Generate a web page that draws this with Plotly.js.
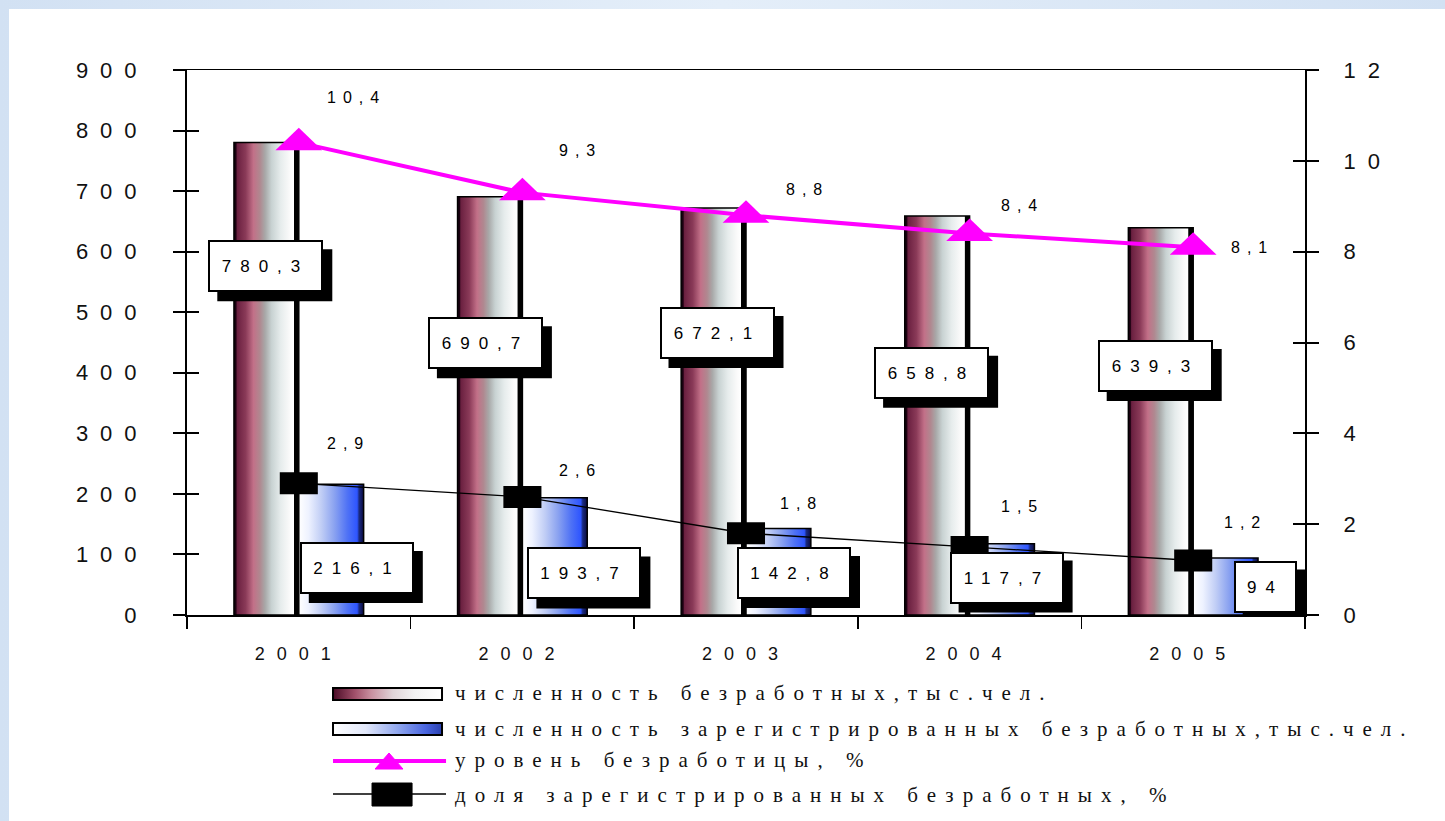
<!DOCTYPE html>
<html><head><meta charset="utf-8">
<script src="https://cdn.plot.ly/plotly-3.0.1.min.js"></script>
<style>
html,body{margin:0;padding:0;width:1445px;height:821px;overflow:hidden;background:linear-gradient(90deg,#d2e1f3,#e4eef9 50%,#d2e1f3);}
#frame{position:absolute;left:9px;top:9px;width:1436px;height:812px;background:#fff;}
#chart{position:absolute;left:0;top:0;width:1445px;height:821px;}
</style></head><body>
<div id="frame"></div><div id="chart"></div>
<script>
// ---- data ----
const years = ['2001', '2002', '2003', '2004', '2005'];
const unemployed = [780.3, 690.7, 672.1, 658.8, 639.3];
const registered = [216.1, 193.7, 142.8, 117.7, 94];
const rate = [10.4, 9.3, 8.8, 8.4, 8.1];
const share = [2.9, 2.6, 1.8, 1.5, 1.2];
const leftTicks = [0, 100, 200, 300, 400, 500, 600, 700, 800, 900];
const rightTicks = [0, 2, 4, 6, 8, 10, 12];
const seriesNames = [
  'численность безработных,тыс.чел.',
  'численность зарегистрированных безработных,тыс.чел.',
  'уровень безработицы, %',
  'доля зарегистрированных безработных, %'
];

// ---- label placement (style) ----
const unempLabelPos = [[-33, 0.738], [-37, 0.650], [-29, 0.693], [-38, 0.607], [-38, 0.643]];
const regLabelPos = [[58, 0.359], [62, 0.354], [48, 0.486], [37, 0.525], [72, 0.5]];
const regLabelW = [110, 110, 110, 110, 59];
const rateLabelOff = [[58, 45], [58, 42], [61, 26], [53, 28], [59, 0]];
const shareLabelOff = [[50, 40], [58, 26], [55, 30], [53, 40], [52, 38]];
const BOX_H = 48, SHADOW = 9;

function fmt(v) { return String(v).replace('.', ','); }
function sp(s, n) { return '<span style="letter-spacing:' + n + 'px">' + s + '</span>'; }

const traces = [
  {type: 'bar', x: years, y: unemployed, name: seriesNames[0], xaxis: 'x', yaxis: 'y',
   marker: {color: '#b06078', line: {color: '#000', width: 1.5}}},
  {type: 'bar', x: years, y: registered, name: seriesNames[1], xaxis: 'x', yaxis: 'y',
   marker: {color: '#6080f0', line: {color: '#000', width: 1.5}}},
  {type: 'scatter', mode: 'lines+markers', x: years, y: rate, name: seriesNames[2], xaxis: 'x', yaxis: 'y2',
   line: {color: '#ff00ff', width: 4}, marker: {symbol: 'triangle-up', size: 30, color: '#ff00ff'}},
  {type: 'scatter', mode: 'lines+markers', x: years, y: share, name: seriesNames[3], xaxis: 'x', yaxis: 'y2',
   line: {color: '#000', width: 1.3}, marker: {symbol: 'square', size: 22, color: '#000'}},
  // empty helper traces so the inner tick axes are drawn
  {type: 'scatter', mode: 'markers', x: [], y: [], xaxis: 'x', yaxis: 'y3', showlegend: false, hoverinfo: 'skip'},
  {type: 'scatter', mode: 'markers', x: [], y: [], xaxis: 'x', yaxis: 'y4', showlegend: false, hoverinfo: 'skip'}
];

const shapes = [
  {type: 'rect', xref: 'paper', yref: 'paper', x0: 0.1306, x1: 0.2281, y0: -0.1339, y1: -0.1560,
   fillcolor: '#b06078', line: {color: '#000', width: 2}},
  {type: 'rect', xref: 'paper', yref: 'paper', x0: 0.1306, x1: 0.2281, y0: -0.1982, y1: -0.2202,
   fillcolor: '#6080f0', line: {color: '#000', width: 2}},
  {type: 'line', xref: 'paper', yref: 'paper', x0: 0.1306, x1: 0.2317, y0: -0.2679, y1: -0.2679,
   line: {color: '#ff00ff', width: 4}},
  {type: 'path', xref: 'paper', yref: 'paper', path: 'M0.1682,-0.2826 L0.1932,-0.2826 L0.1807,-0.2532 Z',
   fillcolor: '#ff00ff', line: {color: '#ff00ff', width: 1}},
  {type: 'line', xref: 'paper', yref: 'paper', x0: 0.1306, x1: 0.2317, y0: -0.3284, y1: -0.3284,
   line: {color: '#000', width: 1.3}},
  {type: 'rect', xref: 'paper', yref: 'paper', x0: 0.1655, x1: 0.2013, y0: -0.3083, y1: -0.3505,
   fillcolor: '#000', line: {color: '#000', width: 1}}
];

const annotations = [];
function box(xi, yVal, xs, w, text) {
  const W = w + 4, H = BOX_H + 4;
  shapes.push({type: 'rect', xref: 'x', yref: 'y', xsizemode: 'pixel', ysizemode: 'pixel',
    xanchor: xi, yanchor: yVal, x0: xs + SHADOW - W / 2, x1: xs + SHADOW + W / 2,
    y0: -SHADOW - H / 2, y1: -SHADOW + H / 2, fillcolor: '#000', line: {width: 0}, layer: 'above'});
  annotations.push({xref: 'x', yref: 'y', x: xi, y: yVal, xshift: xs, showarrow: false, width: w, height: BOX_H,
    borderpad: 0, borderwidth: 2, bgcolor: '#fff', bordercolor: '#000',
    font: {family: 'Liberation Sans', size: 17, color: '#000'}, text: sp(text, 9)});
}
years.forEach((yr, i) => {
  box(i, unemployed[i] * unempLabelPos[i][1], unempLabelPos[i][0], 111, fmt(unemployed[i]));
});
years.forEach((yr, i) => {
  box(i, registered[i] * regLabelPos[i][1], regLabelPos[i][0], regLabelW[i], fmt(registered[i]));
});
years.forEach((yr, i) => {
  annotations.push({xref: 'x', yref: 'y2', x: i, y: rate[i], xshift: rateLabelOff[i][0], yshift: rateLabelOff[i][1],
    showarrow: false, text: sp(fmt(rate[i]), 7), font: {family: 'Liberation Sans', size: 16, color: '#000'}});
  annotations.push({xref: 'x', yref: 'y2', x: i, y: share[i], xshift: shareLabelOff[i][0], yshift: shareLabelOff[i][1],
    showarrow: false, text: sp(fmt(share[i]), 7), font: {family: 'Liberation Sans', size: 16, color: '#000'}});
});
// legend texts
const legendY = [-0.1431, -0.2092, -0.2661, -0.3303];
seriesNames.forEach((n, i) => {
  annotations.push({xref: 'paper', yref: 'paper', x: 0.2379, y: legendY[i], xanchor: 'left', yanchor: 'middle',
    showarrow: false, text: sp(n, 9), font: {family: 'Liberation Serif', size: 21, color: '#111'}});
});

const tickFont = {family: 'Liberation Sans', size: 22, color: '#111'};
const layout = {
  width: 1445, height: 821,
  margin: {l: 187, r: 140, t: 70, b: 206},
  paper_bgcolor: 'rgba(0,0,0,0)', plot_bgcolor: '#fff',
  showlegend: false, hovermode: false,
  barmode: 'group', bargap: 0.42, bargroupgap: 0,
  xaxis: {type: 'category', range: [-0.5, 4.5], autorange: false, tickmode: 'array', tickvals: years, ticktext: years.map(y => sp(y, 12)),
    tickson: 'boundaries', ticks: 'outside', ticklen: 12, tickwidth: 1.5, tickcolor: '#000',
    showline: true, linecolor: '#000', linewidth: 1.5, mirror: true, showgrid: false, zeroline: false,
    ticklabelstandoff: 22, tickfont: {family: 'Liberation Sans', size: 18, color: '#111'}},
  yaxis: {range: [0, 900], autorange: false, tickmode: 'array', tickvals: leftTicks, ticktext: leftTicks.map(v => sp(String(v), 12)),
    ticks: 'outside', ticklen: 12, tickwidth: 2, tickcolor: '#000', showline: true, linecolor: '#000', linewidth: 2,
    showgrid: false, zeroline: false, ticklabelstandoff: 20, tickfont: tickFont},
  yaxis2: {range: [0, 12], autorange: false, overlaying: 'y', side: 'right', anchor: 'x', tickmode: 'array', tickvals: rightTicks,
    ticktext: rightTicks.map(v => sp(String(v), 12)), ticks: 'outside', ticklen: 12, tickwidth: 2, tickcolor: '#000',
    showline: true, linecolor: '#000', linewidth: 2, showgrid: false, zeroline: false, ticklabelstandoff: 20, tickfont: tickFont},
  yaxis3: {range: [0, 900], autorange: false, overlaying: 'y', side: 'left', anchor: 'x', tickmode: 'array', tickvals: leftTicks,
    ticks: 'inside', ticklen: 12, tickwidth: 2, tickcolor: '#000', showticklabels: false, showline: false,
    showgrid: false, zeroline: false},
  yaxis4: {range: [0, 12], autorange: false, overlaying: 'y', side: 'right', anchor: 'x', tickmode: 'array', tickvals: rightTicks,
    ticks: 'inside', ticklen: 12, tickwidth: 2, tickcolor: '#000', showticklabels: false, showline: false,
    showgrid: false, zeroline: false},
  annotations: annotations,
  shapes: shapes
};

function addGradients() {
  const svg = document.querySelector('#chart .main-svg');
  const NS = 'http://www.w3.org/2000/svg';
  const defs = document.createElementNS(NS, 'defs');
  const grads = {
    gM: [[0, '#1a0010'], [0.03, '#1a0010'], [0.05, '#6a2040'], [0.18, '#8a3a58'], [0.30, '#c27088'],
         [0.40, '#b08890'], [0.48, '#a8a8a8'], [0.58, '#c8d2d2'], [0.72, '#e6ecec'], [0.86, '#fafafa'],
         [0.92, '#ffffff'], [0.93, '#000000'], [1, '#000000']],
    gB: [[0, '#ffffff'], [0.15, '#eef2ff'], [0.35, '#c0cdf5'], [0.55, '#8aa2f0'], [0.75, '#4f72f5'],
         [0.90, '#2e55ff'], [0.93, '#1a2a80'], [1, '#0a0a40']],
    gLM: [[0, '#4a0a25'], [0.2, '#a0506a'], [0.35, '#c890a0'], [0.55, '#e0d4d8'], [0.75, '#f2f2f2'], [1, '#ffffff']],
    gLB: [[0, '#ffffff'], [0.3, '#e2e8fa'], [0.6, '#8fa6ee'], [0.85, '#4a66e0'], [1, '#2a40b0']]
  };
  Object.keys(grads).forEach(id => {
    const g = document.createElementNS(NS, 'linearGradient');
    g.setAttribute('id', id);
    g.setAttribute('x1', '0'); g.setAttribute('x2', '1'); g.setAttribute('y1', '0'); g.setAttribute('y2', '0');
    grads[id].forEach(s => {
      const st = document.createElementNS(NS, 'stop');
      st.setAttribute('offset', s[0]);
      st.setAttribute('stop-color', s[1]);
      g.appendChild(st);
    });
    defs.appendChild(g);
  });
  svg.appendChild(defs);
  const barTraces = document.querySelectorAll('#chart .barlayer .trace');
  if (barTraces[0]) barTraces[0].querySelectorAll('path').forEach(p => p.style.fill = 'url(#gM)');
  if (barTraces[1]) barTraces[1].querySelectorAll('path').forEach(p => p.style.fill = 'url(#gB)');
  const s0 = document.querySelector('#chart .shapelayer path[data-index="0"]');
  const s1 = document.querySelector('#chart .shapelayer path[data-index="1"]');
  if (s0) s0.style.fill = 'url(#gLM)';
  if (s1) s1.style.fill = 'url(#gLB)';
  const sc = document.querySelectorAll('#chart .scatterlayer .trace');
  const scales = ['scale(1.35,1)', 'scale(1.73,1)'];
  sc.forEach((t, i) => {
    t.querySelectorAll('.points path').forEach(p => {
      p.setAttribute('transform', (p.getAttribute('transform') || '') + ' ' + (scales[i] || ''));
    });
  });
}

Plotly.newPlot('chart', traces, layout, {displayModeBar: false, staticPlot: true}).then(addGradients);
</script>
</body></html>
